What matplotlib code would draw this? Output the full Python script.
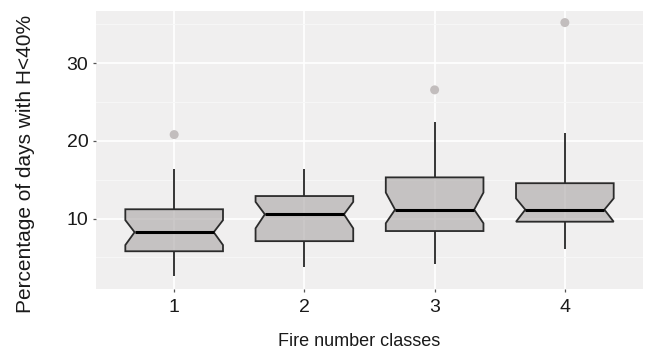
import numpy as np
import matplotlib
matplotlib.use("Agg")
import matplotlib.pyplot as plt
from matplotlib.ticker import MultipleLocator

plt.rcParams['font.family'] = ['Liberation Sans', 'DejaVu Sans']

# box statistics per fire number class
classes = ['1', '2', '3', '4']
q1 = [5.8, 7.1, 8.4, 9.6]
med = [8.25, 10.55, 11.15, 11.15]
q3 = [11.2, 12.9, 15.3, 14.55]
notch_lo = [6.6, 8.75, 9.4, 9.6]
notch_hi = [9.8, 12.15, 13.35, 12.6]
whis_lo = [2.6, 3.75, 4.15, 6.15]
whis_hi = [16.4, 16.4, 22.45, 21.05]
outliers = [[20.8], [], [26.55], [35.2]]

box_w = 0.75
notch_frac = 0.81

fig = plt.figure(figsize=(6.51, 3.52), dpi=100)
ax = fig.add_axes([0.1475, 0.179, 0.8402, 0.79])
ax.set_facecolor('#f0efef')

x = np.arange(1, len(classes) + 1)
for i, xc in enumerate(x):
    hw = box_w / 2
    nw = hw * notch_frac
    # whiskers
    ax.vlines(xc, q3[i], whis_hi[i], color='black', lw=1.1, zorder=2)
    ax.vlines(xc, whis_lo[i], q1[i], color='black', lw=1.1, zorder=2)
    # notched box
    px = [xc - hw, xc - hw, xc - nw, xc - hw, xc - hw,
          xc + hw, xc + hw, xc + nw, xc + hw, xc + hw]
    py = [q1[i], notch_lo[i], med[i], notch_hi[i], q3[i],
          q3[i], notch_hi[i], med[i], notch_lo[i], q1[i]]
    ax.fill(px, py, facecolor='#a9a5a4', alpha=0.6, edgecolor='none', zorder=2)
    ax.fill(px, py, facecolor='none', edgecolor='#2b2b2b', lw=1.3, zorder=3)
    ax.plot([xc - nw, xc + nw], [med[i], med[i]], color='black', lw=2.2,
            solid_capstyle='butt', zorder=4)
    if outliers[i]:
        ax.scatter([xc] * len(outliers[i]), outliers[i], s=42, color='#c2bdbd',
                   edgecolor='none', zorder=4)

ax.set_xlim(0.4, 4.6)
ax.set_ylim(0.95, 36.7)
ax.set_xticks(x)
ax.set_xticklabels(classes)
ax.yaxis.set_major_locator(MultipleLocator(10))
ax.yaxis.set_minor_locator(MultipleLocator(5))
ax.set_yticks([10, 20, 30])

ax.grid(which='major', color='white', lw=1.2, zorder=0)
ax.grid(which='minor', axis='y', color='#f7f7f7', lw=0.7, zorder=0)
ax.set_axisbelow(True)
for s in ax.spines.values():
    s.set_visible(False)

ax.tick_params(axis='both', which='major', length=2.5, width=0.9, color='#555555',
               labelsize=14, labelcolor='#1a1a1a', pad=3)
ax.tick_params(axis='x', which='major', pad=5)
ax.tick_params(axis='y', which='minor', length=0)

ax.set_xlabel('Fire number classes', fontsize=13, color='#1a1a1a')
ax.set_ylabel('Percentage of days with H<40%', fontsize=15, color='#1a1a1a')
ax.xaxis.set_label_coords(0.4817, -0.158)
ax.yaxis.set_label_coords(-0.1115, 0.448)

fig.savefig('out.png', dpi=100)
